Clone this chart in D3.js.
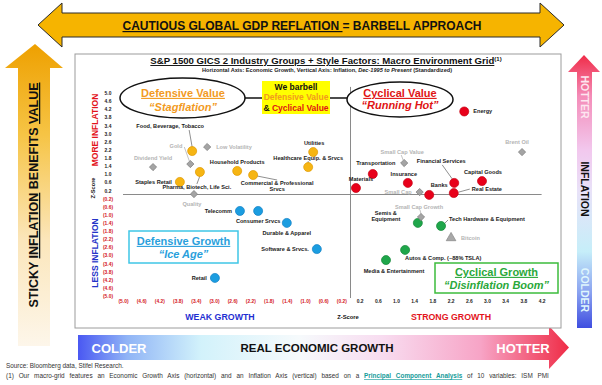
<!DOCTYPE html>
<html>
<head>
<meta charset="utf-8">
<script src="https://cdn.jsdelivr.net/npm/d3@7"></script>
<style>
  body { margin: 0; background: #fff; }
  svg { display: block; font-family: "Liberation Sans", Arial, sans-serif; }
</style>
</head>
<body>
<svg id="chart" width="602" height="385"></svg>
<script>
// ---- data (z-scores) ----
const names = [
  'Food, Beverage, Tobacco', 'Pharma, Biotech, Life Sci.', 'Staples Retail', 'Household Products',
  'Commercial & Professional Srvcs', 'Healthcare Equip. & Srvcs', 'Utilities',
  'Telecomm', 'Consumer Srvcs', 'Durable & Apparel', 'Software & Srvcs.', 'Retail',
  'Energy', 'Transportation', 'Materials', 'Insurance', 'Financial Services', 'Capital Goods', 'Banks', 'Real Estate',
  'Semis & Equipment', 'Tech Hardware & Equipment', 'Autos & Comp. (~88% TSLA)', 'Media & Entertainment',
  'Gold', 'Low Volatility', 'Dividend Yield', 'Quality',
  'Small Cap Value', 'Small Cap', 'Small Cap Growth', 'Brent Oil', 'Bitcoin'
];
const growth = [
  -3.48, -3.31, -3.75, -2.49, -2.14, -0.93, -0.82,
  -2.43, -2.03, -1.40, -0.74, -2.98,
  2.50, 0.49, 0.12, 1.26, 2.28, 2.89, 1.73, 2.27,
  1.48, 1.99, 1.20, 0.78,
  -3.52, -3.15, -4.34, -3.44,
  1.18, 1.52, 1.55, 3.77, 2.21
];
const inflation = [
  2.14, 1.11, 0.62, 1.16, 0.96, 1.35, 2.09,
  -0.81, -0.81, -1.40, -2.69, -4.11,
  4.09, 1.01, 0.32, 0.57, 0.57, 0.66, -0.02, 0.07,
  -1.40, -1.55, -2.73, -3.23,
  1.50, 2.34, 1.35, 0.02,
  1.55, 0.12, -1.11, 2.09, -2.14
];
const groups = [
  'DV', 'DV', 'DV', 'DV', 'DV', 'DV', 'DV',
  'DG', 'DG', 'DG', 'DG', 'DG',
  'CV', 'CV', 'CV', 'CV', 'CV', 'CV', 'CV', 'CV',
  'CG', 'CG', 'CG', 'CG',
  'SF', 'SF', 'SF', 'SF',
  'SF', 'SF', 'SF', 'SF', 'BTC'
];
const yTicks = [5.0, 4.6, 4.2, 3.8, 3.4, 3.0, 2.6, 2.2, 1.8, 1.4, 1.0, 0.6, 0.2,
  -0.2, -0.6, -1.0, -1.4, -1.8, -2.2, -2.6, -3.0, -3.4, -3.8, -4.2, -4.6, -5.0];
const xTicks = [-5.0, -4.6, -4.2, -3.8, -3.4, -3.0, -2.6, -2.2, -1.8, -1.4, -1.0, -0.6, -0.2,
  0.2, 0.6, 1.0, 1.4, 1.8, 2.2, 2.6, 3.0, 3.4, 3.8, 4.2];

// ---- label placement (offsets from the marker, px) ----
const labelPos = {
  'Food, Beverage, Tobacco': { dx: -22, dy: -25, a: 'middle', lead: [[-3, -21], [0, -4]] },
  'Pharma, Biotech, Life Sci.': { dx: -3, dy: 15, a: 'middle', lead: [[0, 4], [-3, 12]] },
  'Staples Retail': { dx: -8, dy: 0, a: 'end' },
  'Household Products': { dx: 0, dy: -9, a: 'middle' },
  'Commercial & Professional Srvcs': { dx: 24, dy: 8, a: 'middle', lines: ['Commercial & Professional', 'Srvcs'], lead: [[4, 1], [24, 5]] },
  'Healthcare Equip. & Srvcs': { dx: 0, dy: -9, a: 'middle', lead: [[0, -3], [0, -6]] },
  'Utilities': { dx: 1, dy: -9, a: 'middle' },
  'Telecomm': { dx: -8, dy: 0, a: 'end' },
  'Consumer Srvcs': { dx: 0, dy: 10, a: 'middle' },
  'Durable & Apparel': { dx: 0, dy: 10, a: 'middle' },
  'Software & Srvcs.': { dx: -8, dy: 0, a: 'end' },
  'Retail': { dx: -8, dy: 0, a: 'end' },
  'Energy': { dx: 9, dy: 0, a: 'start' },
  'Transportation': { dx: 3, dy: -11, a: 'middle' },
  'Materials': { dx: 5, dy: -9, a: 'middle' },
  'Insurance': { dx: -4, dy: -9, a: 'middle' },
  'Financial Services': { dx: -13, dy: -22, a: 'middle', lead: [[-12, -18], [-2, -4]] },
  'Capital Goods': { dx: 1, dy: -9, a: 'middle' },
  'Banks': { dx: 10, dy: -10, a: 'middle' },
  'Real Estate': { dx: 18, dy: -4, a: 'start', lead: [[5, -1], [16, -4]] },
  'Semis & Equipment': { dx: -32, dy: -10, a: 'middle', lines: ['Semis &', 'Equipment'] },
  'Tech Hardware & Equipment': { dx: 8, dy: -7, a: 'start', lead: [[3, -2], [7, -6]] },
  'Autos & Comp. (~88% TSLA)': { dx: 0, dy: 8, a: 'start' },
  'Media & Entertainment': { dx: 8, dy: 11, a: 'middle' },
  'Gold': { dx: -8, dy: -18, a: 'end', lead: [[-6, -17], [-1, -3]] },
  'Low Volatility': { dx: 9, dy: 0, a: 'start' },
  'Dividend Yield': { dx: 0, dy: -9, a: 'middle' },
  'Quality': { dx: -2, dy: 10, a: 'middle' },
  'Small Cap Value': { dx: -2, dy: -11, a: 'middle', lead: [[-3, -8], [-1, -3]] },
  'Small Cap': { dx: -8, dy: 0, a: 'end' },
  'Small Cap Growth': { dx: -2, dy: -10, a: 'middle', lead: [[-1, -7], [0, -3]] },
  'Brent Oil': { dx: -5, dy: -10, a: 'middle' },
  'Bitcoin': { dx: 10, dy: 0, a: 'start' }
};

const colors = {
  DV: { fill: '#f6b513', stroke: '#e09a00' },
  DG: { fill: '#1b9de0', stroke: '#1180c4' },
  CV: { fill: '#e8001a', stroke: '#c40012' },
  CG: { fill: '#1fa64a', stroke: '#138636' },
  SF: { fill: '#a4a4a4', stroke: '#7e7e7e' },
  BTC: { fill: '#a8a8a8', stroke: '#858585' }
};

const svg = d3.select('#chart');
const defs = svg.append('defs');

function linGrad(id, x2, y2, stops) {
  const g = defs.append('linearGradient').attr('id', id)
    .attr('x1', 0).attr('y1', 0).attr('x2', x2).attr('y2', y2);
  stops.forEach(s => g.append('stop').attr('offset', s[0]).attr('stop-color', s[1]));
}
linGrad('gLeft', 0, 1, [[0, '#eea000'], [0.3, '#f6c445'], [0.65, '#fbe6bb'], [1, '#fdf6ea']]);
linGrad('gRight', 0, 1, [[0, '#f02c48'], [0.15, '#f48cb8'], [0.35, '#f2c8ee'], [0.5, '#e8e2f8'],
  [0.72, '#c6eef9'], [0.87, '#8aa2f0'], [1, '#3f4ee0']]);
linGrad('gBottom', 1, 0, [[0, '#4a58f2'], [0.1, '#90b4f6'], [0.25, '#d2f2fb'], [0.45, '#f6fafc'],
  [0.62, '#f8dcf0'], [0.82, '#f7a4c6'], [1, '#ef2c46']]);

// ---- top barbell arrow ----
svg.append('path')
  .attr('d', 'M38,25 L62,3 L62,13 L540,13 L540,3 L564,25 L540,47 L540,37 L62,37 L62,47 Z')
  .attr('fill', '#f6b400').attr('stroke', '#2a2a2a').attr('stroke-width', 1);
const topT = svg.append('text').attr('x', 302).attr('y', 30).attr('text-anchor', 'middle')
  .attr('font-size', 12).attr('font-weight', 'bold').attr('fill', '#111');
topT.append('tspan').attr('text-decoration', 'underline').text('CAUTIOUS GLOBAL GDP REFLATION ');
topT.append('tspan').text('= BARBELL APPROACH');

// ---- left arrow ----
svg.append('path')
  .attr('d', 'M35,44 L63,68 L50,68 L50,346 L18,346 L18,68 L5,68 Z')
  .attr('fill', 'url(#gLeft)');
const leftT = svg.append('text').attr('transform', 'translate(38,195) rotate(-90)')
  .attr('text-anchor', 'middle').attr('font-size', 12.5).attr('font-weight', 'bold').attr('fill', '#111');
leftT.append('tspan').text('STICKY ');
leftT.append('tspan').attr('text-decoration', 'underline').text('INFLATION');
leftT.append('tspan').text(' BENEFITS ');
leftT.append('tspan').attr('text-decoration', 'underline').text('VALUE');

// ---- right arrow ----
svg.append('path')
  .attr('d', 'M584,55 L600,72 L592,72 L592,328 L577,328 L577,72 L568,72 Z')
  .attr('fill', 'url(#gRight)');
[['HOTTER', 97, '#fde6f0'], ['INFLATION', 189, '#111'], ['COLDER', 290, '#dff6fd']].forEach(([t, yy, c]) => {
  svg.append('text').attr('transform', `translate(581,${yy}) rotate(90)`)
    .attr('text-anchor', 'middle').attr('font-size', 10.5).attr('font-weight', 'bold')
    .attr('fill', c).text(t);
});

// ---- bottom arrow ----
svg.append('path')
  .attr('d', 'M78,335 L549,335 L549,326 L569,347.5 L549,369 L549,360 L78,360 Z')
  .attr('fill', 'url(#gBottom)');
[['COLDER', 119, '#fff', 13], ['REAL ECONOMIC GROWTH', 317, '#111', 11.5], ['HOTTER', 523, '#fff', 13]]
  .forEach(([t, xx, c, fs]) => {
    svg.append('text').attr('x', xx).attr('y', 348).attr('dy', '0.35em').attr('text-anchor', 'middle')
      .attr('font-size', fs).attr('font-weight', 'bold').attr('fill', c).text(t);
  });

// ---- chart box ----
svg.append('rect').attr('x', 75).attr('y', 54).attr('width', 486).attr('height', 274)
  .attr('fill', '#fff').attr('stroke', '#9c9c9c').attr('stroke-width', 1);

const title = svg.append('text').attr('x', 326).attr('y', 64).attr('text-anchor', 'middle')
  .attr('font-size', 9.6).attr('font-weight', 'bold').attr('fill', '#111');
title.append('tspan').attr('text-decoration', 'underline')
  .text('S&P 1500 GICS 2 Industry Groups + Style Factors: Macro Environment Grid');
title.append('tspan').attr('font-size', 6).attr('dy', -3).text('(1)');

const sub = svg.append('text').attr('x', 327).attr('y', 72).attr('text-anchor', 'middle')
  .attr('font-size', 5.6).attr('font-weight', 'bold').attr('fill', '#222');
sub.append('tspan').text('Horizontal Axis: Economic Growth, Vertical Axis: Inflation, ');
sub.append('tspan').attr('font-style', 'italic').text('Dec-1995 to Present');
sub.append('tspan').text(' (Standardized)');

// ---- scales & axes ----
const x = d3.scaleLinear().domain([-5, 4.2]).range([123, 541.6]);
const y = d3.scaleLinear().domain([-5, 5]).range([296, 93]);
const fmt = v => v < 0 ? `(${d3.format('.1f')(-v)})` : d3.format('.1f')(v);

svg.append('line').attr('x1', x(-5)).attr('x2', x(4.2)).attr('y1', y(0)).attr('y2', y(0))
  .attr('stroke', '#8a8a8a').attr('stroke-width', 1);
svg.append('line').attr('x1', x(0)).attr('x2', x(0)).attr('y1', y(5.3)).attr('y2', y(-5.1))
  .attr('stroke', '#8a8a8a').attr('stroke-width', 1);

const yAx = svg.append('g').attr('transform', 'translate(108,0)')
  .call(d3.axisLeft(y).tickValues(yTicks).tickSize(0).tickPadding(0).tickFormat(fmt))
  .attr('font-family', null);
yAx.select('.domain').remove();
yAx.selectAll('text').attr('x', 0).attr('text-anchor', 'middle')
  .attr('font-size', 4.9).attr('font-weight', 'bold')
  .attr('fill', d => d < 0 ? '#d4141c' : '#222');

const xAx = svg.append('g').attr('transform', 'translate(0,299.5)')
  .call(d3.axisBottom(x).tickValues(xTicks).tickSize(0).tickPadding(0).tickFormat(fmt))
  .attr('font-family', null);
xAx.select('.domain').remove();
xAx.selectAll('text').attr('font-size', 4.9).attr('font-weight', 'bold')
  .attr('fill', d => d < 0 ? '#d4141c' : '#222');

// axis captions
svg.append('text').attr('transform', 'translate(95,130) rotate(-90)').attr('text-anchor', 'middle')
  .attr('dy', '0.35em').attr('font-size', 8.5).attr('font-weight', 'bold').attr('fill', '#e3141c').text('MORE INFLATION');
svg.append('text').attr('transform', 'translate(93,188) rotate(-90)').attr('text-anchor', 'middle')
  .attr('dy', '0.35em').attr('font-size', 5.6).attr('font-weight', 'bold').attr('fill', '#111').text('Z-Score');
svg.append('text').attr('transform', 'translate(95,253) rotate(-90)').attr('text-anchor', 'middle')
  .attr('dy', '0.35em').attr('font-size', 8.5).attr('font-weight', 'bold').attr('fill', '#2433c8').text('LESS INFLATION');
[['WEAK GROWTH', 220, '#1f2fd2', 8.8], ['Z-Score', 348, '#111', 5.8], ['STRONG GROWTH', 451, '#e3141c', 8.8]]
  .forEach(([t, xx, c, fs]) => {
    svg.append('text').attr('x', xx).attr('y', 317).attr('dy', '0.35em').attr('text-anchor', 'middle')
      .attr('font-size', fs).attr('font-weight', 'bold').attr('fill', c).text(t);
  });

// ---- quadrant callouts ----
svg.append('line').attr('x1', 244).attr('x2', 348).attr('y1', 98).attr('y2', 98)
  .attr('stroke', '#111').attr('stroke-width', 1.3);
svg.append('ellipse').attr('cx', 182.5).attr('cy', 98).attr('rx', 62.5).attr('ry', 20)
  .attr('fill', '#fff').attr('stroke', '#111').attr('stroke-width', 1.5);
svg.append('ellipse').attr('cx', 400).attr('cy', 99.5).attr('rx', 53).attr('ry', 17.5)
  .attr('fill', '#fff').attr('stroke', '#111').attr('stroke-width', 1.5);
svg.append('rect').attr('x', 262).attr('y', 81).attr('width', 68).attr('height', 33).attr('fill', '#ffff00');

function callout(xx, yy, t, c, fs, opts) {
  const el = svg.append('text').attr('x', xx).attr('y', yy).attr('dy', '0.35em').attr('text-anchor', 'middle')
    .attr('font-size', fs).attr('font-weight', 'bold').attr('fill', c);
  if (opts && opts.u) el.attr('text-decoration', 'underline');
  if (opts && opts.i) el.attr('font-style', 'italic');
  el.text(t);
  return el;
}
callout(183, 93, 'Defensive Value', '#f29a1e', 11, { u: 1 });
callout(183, 107, '\u201cStagflation\u201d', '#f29a1e', 11, { i: 1 });
callout(400, 93, 'Cyclical Value', '#e01414', 11, { u: 1 });
callout(400, 105.5, '\u201cRunning Hot\u201d', '#e01414', 11, { i: 1 });
callout(296, 87, 'We barbell', '#111', 8.5);
callout(296, 97.5, 'Defensive Value', '#f29a1e', 8.5);
const cvl = callout(296, 108.5, '', '#111', 8.5);
cvl.append('tspan').text('& ');
cvl.append('tspan').attr('fill', '#e01414').text('Cyclical Value');

svg.append('rect').attr('x', 129).attr('y', 231).attr('width', 109).attr('height', 32)
  .attr('fill', '#fff').attr('stroke', '#3fc6e6').attr('stroke-width', 1.5);
callout(183.5, 241, 'Defensive Growth', '#2a9fdc', 11, { u: 1 });
callout(183.5, 254, '\u201cIce Age\u201d', '#2a9fdc', 11, { i: 1 });
svg.append('rect').attr('x', 435).attr('y', 263).attr('width', 123).attr('height', 30)
  .attr('fill', '#fff').attr('stroke', '#3cbc3c').attr('stroke-width', 1.5);
callout(496.5, 272, 'Cyclical Growth', '#2aa83a', 11, { u: 1 });
callout(496.5, 285.5, '\u201cDisinflation Boom\u201d', '#2aa83a', 11, { i: 1 });

// ---- points ----
const pts = names.map((n, i) => ({ name: n, gx: growth[i], iy: inflation[i], grp: groups[i] }));

// leader lines
svg.append('g').selectAll('line')
  .data(pts.filter(d => labelPos[d.name] && labelPos[d.name].lead))
  .join('line')
  .attr('x1', d => x(d.gx) + labelPos[d.name].lead[0][0])
  .attr('y1', d => y(d.iy) + labelPos[d.name].lead[0][1])
  .attr('x2', d => x(d.gx) + labelPos[d.name].lead[1][0])
  .attr('y2', d => y(d.iy) + labelPos[d.name].lead[1][1])
  .attr('stroke', d => (d.grp === 'SF' ? '#9a9a9a' : '#444')).attr('stroke-width', 0.6);

const sym = d => d.grp === 'SF'
  ? d3.symbol().type(d3.symbolSquare).size(26)()
  : d.grp === 'BTC' ? d3.symbol().type(d3.symbolTriangle).size(40)() : d3.symbol().type(d3.symbolCircle).size(64)();

const order = ['DV', 'DG', 'CV', 'CG', 'SF', 'BTC'];
svg.append('g').selectAll('path')
  .data(pts.slice().sort((a, b) => order.indexOf(a.grp) - order.indexOf(b.grp)))
  .join('path')
  .attr('d', sym)
  .attr('transform', d => `translate(${x(d.gx)},${y(d.iy)})${d.grp === 'SF' ? ' rotate(45)' : ''}`)
  .attr('fill', d => colors[d.grp].fill)
  .attr('stroke', d => colors[d.grp].stroke).attr('stroke-width', 0.7);

// labels
const lab = svg.append('g').selectAll('text')
  .data(pts)
  .join('text')
  .attr('x', d => x(d.gx) + labelPos[d.name].dx)
  .attr('y', d => y(d.iy) + labelPos[d.name].dy)
  .attr('dy', '0.35em')
  .attr('text-anchor', d => labelPos[d.name].a)
  .attr('font-size', 5.6).attr('font-weight', 'bold')
  .attr('fill', d => (d.grp === 'SF' || d.grp === 'BTC') ? '#b4b4b4' : '#1a1a1a');
lab.each(function (d) {
  const p = labelPos[d.name];
  const t = d3.select(this);
  if (p.lines) {
    p.lines.forEach((ln, k) => t.append('tspan').attr('x', x(d.gx) + p.dx)
      .attr('dy', k === 0 ? '0.35em' : '1.1em').text(ln));
    t.attr('dy', null);
  } else {
    t.text(d.name);
  }
});

// ---- source & footnote ----
svg.append('text').attr('x', 6).attr('y', 368).attr('font-size', 6.4).attr('fill', '#333')
  .text('Source: Bloomberg data, Stifel Research.');
const foot = svg.append('text').attr('x', 6).attr('y', 378).attr('font-size', 6.4).attr('fill', '#333');
foot.append('tspan').text('(1)   Our macro-grid features an Economic Growth Axis (horizontal) and an Inflation Axis (vertical) based on a ');
foot.append('tspan').attr('fill', '#159c9a').attr('font-weight', 'bold').attr('text-decoration', 'underline')
  .text('Principal Component Analysis');
foot.append('tspan').text(' of 10 variables: ISM PMI');
const natural = foot.node().getComputedTextLength();
const spaces = (foot.text().match(/ /g) || []).length;
foot.attr('word-spacing', Math.max(0, (549 - natural) / spaces));
</script>
</body>
</html>
